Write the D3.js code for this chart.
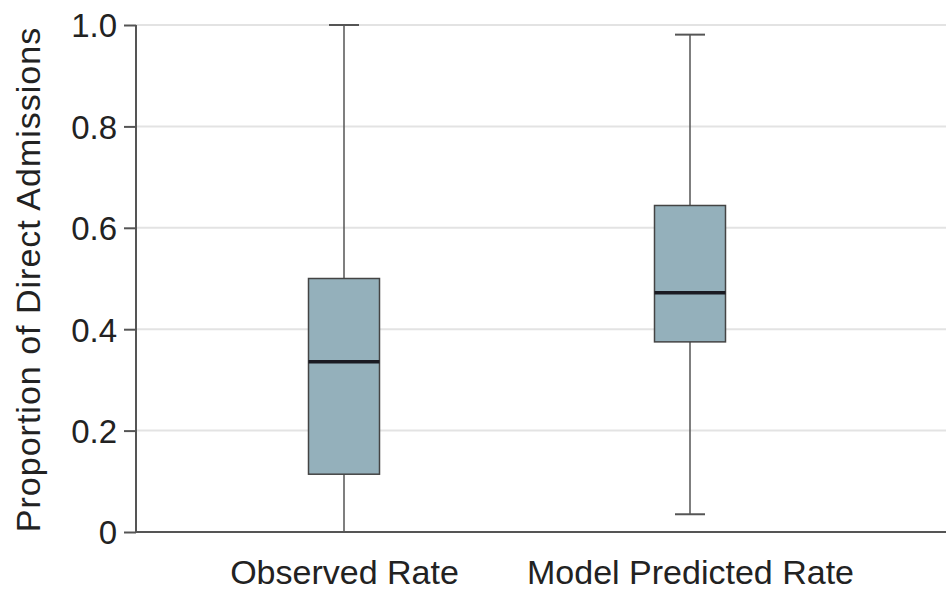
<!DOCTYPE html>
<html><head><meta charset="utf-8">
<script src="https://cdn.jsdelivr.net/npm/d3@7"></script>
<style>html,body{margin:0;padding:0;background:#fff;}svg{display:block;}</style>
</head><body>
<svg id="chart" width="946" height="593"></svg>
<script>
const categories = ["Observed Rate", "Model Predicted Rate"];
const whiskerLow  = [0.0, 0.035];
const q1          = [0.114, 0.375];
const median      = [0.336, 0.472];
const q3          = [0.500, 0.644];
const whiskerHigh = [1.0, 0.981];
const yTicks = [0, 0.2, 0.4, 0.6, 0.8, 1.0];
const yTickLabels = ["0", "0.2", "0.4", "0.6", "0.8", "1.0"];
const yTitle = "Proportion of Direct Admissions";

const data = categories.map((c, i) => ({cat: c, lo: whiskerLow[i], q1: q1[i], med: median[i], q3: q3[i], hi: whiskerHigh[i]}));

const svg = d3.select("#chart");
const mLeft = 136, mRight = 946, mTop = 25, mBottom = 532;
const font = "'Liberation Sans', Arial, sans-serif";

const y = d3.scaleLinear().domain([0, 1]).range([mBottom, mTop]);
const x = d3.scalePoint().domain(categories).range([344, 690]);
const boxW = 71, capW = 30;

// gridlines
svg.append("g").selectAll("line").data(yTicks.filter(d => d > 0)).join("line")
  .attr("x1", mLeft).attr("x2", mRight)
  .attr("y1", d => y(d)).attr("y2", d => y(d))
  .attr("stroke", "#e3e3e3").attr("stroke-width", 2);

// y axis
const yAxis = d3.axisLeft(y).tickValues(yTicks).tickSize(12).tickPadding(7)
  .tickFormat((d, i) => yTickLabels[i]);
const gy = svg.append("g").attr("transform", `translate(${mLeft},0)`).call(yAxis);
gy.select(".domain").remove();
gy.selectAll(".tick line").attr("stroke", "#555").attr("stroke-width", 2);
gy.selectAll(".tick text").attr("font-family", font).attr("font-size", 33).attr("fill", "#222").attr("dy", "0.36em");
svg.append("line").attr("x1", mLeft).attr("x2", mLeft).attr("y1", y(1)).attr("y2", y(0))
  .attr("stroke", "#555").attr("stroke-width", 2);

// x axis
const xAxis = d3.axisBottom(x).tickSize(0).tickPadding(28);
const gx = svg.append("g").attr("transform", `translate(0,${mBottom})`).call(xAxis);
gx.select(".domain").remove();
gx.selectAll(".tick text").attr("font-family", font).attr("font-size", 34).attr("fill", "#222");
svg.append("line").attr("x1", mLeft).attr("x2", mRight).attr("y1", y(0)).attr("y2", y(0))
  .attr("stroke", "#555").attr("stroke-width", 2);

// y title
svg.append("text")
  .attr("transform", `translate(40,${(mTop + mBottom) / 2 + 1}) rotate(-90)`)
  .attr("text-anchor", "middle")
  .attr("font-family", font).attr("font-size", 34).attr("fill", "#222")
  .attr("letter-spacing", 1)
  .text(yTitle);

// boxes
const g = svg.append("g").selectAll("g").data(data).join("g");
g.append("line").attr("x1", d => x(d.cat)).attr("x2", d => x(d.cat))
  .attr("y1", d => y(d.hi)).attr("y2", d => y(d.q3)).attr("stroke", "#555").attr("stroke-width", 1.5);
g.append("line").attr("x1", d => x(d.cat)).attr("x2", d => x(d.cat))
  .attr("y1", d => y(d.q1)).attr("y2", d => y(d.lo)).attr("stroke", "#555").attr("stroke-width", 1.5);
g.append("line").attr("x1", d => x(d.cat) - capW / 2).attr("x2", d => x(d.cat) + capW / 2)
  .attr("y1", d => y(d.hi)).attr("y2", d => y(d.hi)).attr("stroke", "#555").attr("stroke-width", 2);
g.append("line").attr("x1", d => x(d.cat) - capW / 2).attr("x2", d => x(d.cat) + capW / 2)
  .attr("y1", d => y(d.lo)).attr("y2", d => y(d.lo)).attr("stroke", "#555").attr("stroke-width", 2);
g.append("rect").attr("x", d => x(d.cat) - boxW / 2).attr("width", boxW)
  .attr("y", d => y(d.q3)).attr("height", d => y(d.q1) - y(d.q3))
  .attr("fill", "#94b0bb").attr("stroke", "#444").attr("stroke-width", 1.5);
g.append("line").attr("x1", d => x(d.cat) - boxW / 2).attr("x2", d => x(d.cat) + boxW / 2)
  .attr("y1", d => y(d.med)).attr("y2", d => y(d.med)).attr("stroke", "#1a1a22").attr("stroke-width", 3.5);
</script>
</body></html>
